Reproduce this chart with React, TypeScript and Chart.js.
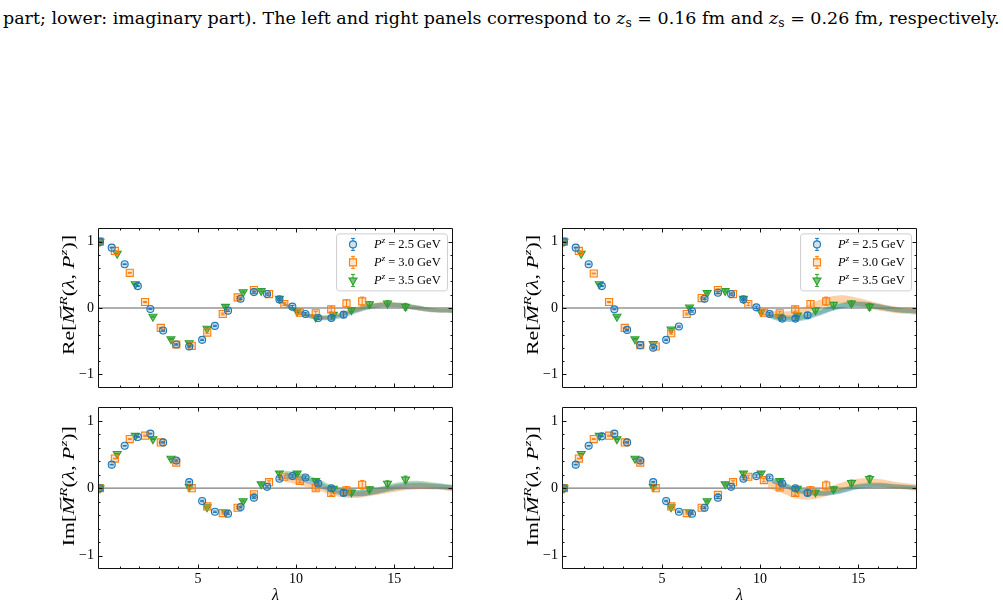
import React, { useEffect, useLayoutEffect, useRef } from 'react';
import { Chart, registerables } from 'chart.js';

Chart.register(...registerables);

const SERIF = '"Liberation Serif", "Times New Roman", Times, serif';
const CAPTION_FONT = '"DejaVu Serif", "Liberation Serif", serif';

// Series styling: one entry per momentum
const momentumLabels = ['2.5', '3.0', '3.5'];
const seriesColors = ['#1f77b4', '#ff7f0e', '#2ca02c'];
const markerFills = ['rgba(31,119,180,0.22)', 'rgba(255,127,14,0.22)', 'rgba(44,160,44,0.62)'];
const bandFills = ['rgba(31,119,180,0.36)', 'rgba(255,127,14,0.36)', 'rgba(44,160,44,0.36)'];

// Axis limits and ticks
const xLimits = [-0.1, 18];
const yLimits = [-1.2, 1.2];
const xMajorTicks = [5, 10, 15];
const xMinorTicks = [1, 2, 3, 4, 6, 7, 8, 9, 11, 12, 13, 14, 16, 17];
const yMajorTicks = [-1, 0, 1];
const yMinorTicks = [-0.8, -0.6, -0.4, -0.2, 0.2, 0.4, 0.6, 0.8];

// Ioffe time of each lattice point for the three momenta
const lambdaP25 = [0, 0.6, 1.26, 1.93, 2.57, 3.22, 3.89, 4.55, 5.21, 5.86, 6.53, 7.17, 7.85, 8.52, 9.15, 9.81, 10.48, 11.13, 11.8, 12.42];
const lambdaP30 = [0, 0.76, 1.52, 2.3, 3.1, 3.89, 4.68, 5.47, 6.26, 7.02, 7.85, 8.62, 9.4, 10.19, 11.0, 11.79, 12.57, 13.37];
const lambdaP35 = [0, 0.88, 1.8, 2.7, 3.62, 4.55, 5.46, 6.4, 7.3, 8.22, 9.15, 10.05, 11.0, 11.9, 12.82, 13.74, 14.66, 15.58];

// Statistical errors
const errP25 = [0.004, 0.005, 0.005, 0.006, 0.006, 0.008, 0.008, 0.01, 0.01, 0.01, 0.012, 0.012, 0.014, 0.015, 0.016, 0.018, 0.02, 0.024, 0.03, 0.04];
const errP30 = [0.004, 0.005, 0.006, 0.008, 0.008, 0.01, 0.01, 0.012, 0.014, 0.015, 0.018, 0.02, 0.022, 0.025, 0.03, 0.04, 0.05, 0.065];
const errP35 = [0.004, 0.005, 0.006, 0.008, 0.01, 0.01, 0.012, 0.012, 0.014, 0.015, 0.016, 0.018, 0.02, 0.025, 0.03, 0.035, 0.04, 0.05];

// Real part, z_s = 0.16 fm
const reLeftP25 = [1.0, 0.91, 0.66, 0.33, -0.015, -0.34, -0.55, -0.58, -0.48, -0.27, -0.04, 0.14, 0.24, 0.21, 0.13, 0.02, -0.09, -0.15, -0.15, -0.1];
const reLeftP30 = [1.0, 0.86, 0.53, 0.09, -0.3, -0.55, -0.57, -0.37, -0.09, 0.16, 0.27, 0.21, 0.06, -0.07, -0.08, -0.02, 0.07, 0.1];
const reLeftP35 = [1.0, 0.82, 0.36, -0.13, -0.47, -0.53, -0.31, 0.02, 0.24, 0.26, 0.14, -0.05, -0.14, -0.1, -0.03, 0.06, 0.07, 0.02];

// Real part, z_s = 0.26 fm
const reRightP25 = [1.0, 0.91, 0.66, 0.33, -0.02, -0.33, -0.56, -0.6, -0.48, -0.28, -0.05, 0.14, 0.23, 0.21, 0.13, 0.01, -0.09, -0.16, -0.16, -0.11];
const reRightP30 = [1.0, 0.86, 0.52, 0.09, -0.3, -0.56, -0.58, -0.38, -0.09, 0.15, 0.27, 0.21, 0.06, -0.07, -0.08, -0.02, 0.06, 0.1];
const reRightP35 = [1.0, 0.82, 0.36, -0.13, -0.47, -0.54, -0.32, 0.01, 0.23, 0.26, 0.14, -0.06, -0.13, -0.11, -0.03, 0.05, 0.07, 0.02];

// Imaginary part, z_s = 0.16 fm
const imLeftP25 = [0, 0.35, 0.63, 0.76, 0.81, 0.68, 0.41, 0.09, -0.19, -0.35, -0.38, -0.28, -0.14, 0.02, 0.14, 0.18, 0.16, 0.07, 0.0, -0.07];
const imLeftP30 = [0, 0.44, 0.73, 0.78, 0.68, 0.38, 0.0, -0.27, -0.37, -0.29, -0.09, 0.09, 0.17, 0.11, 0.0, -0.07, -0.03, 0.05];
const imLeftP35 = [0, 0.51, 0.78, 0.73, 0.44, 0.02, -0.28, -0.36, -0.19, 0.06, 0.22, 0.22, 0.11, -0.005, -0.06, -0.015, 0.07, 0.13];

// Imaginary part, z_s = 0.26 fm
const imRightP25 = [0, 0.35, 0.63, 0.77, 0.81, 0.68, 0.41, 0.09, -0.19, -0.35, -0.38, -0.29, -0.14, 0.02, 0.14, 0.18, 0.16, 0.07, 0.0, -0.07];
const imRightP30 = [0, 0.44, 0.73, 0.78, 0.68, 0.38, 0.0, -0.27, -0.37, -0.29, -0.1, 0.09, 0.17, 0.12, 0.01, -0.07, -0.03, 0.04];
const imRightP35 = [0, 0.51, 0.78, 0.73, 0.44, 0.02, -0.28, -0.36, -0.19, 0.06, 0.22, 0.22, 0.11, -0.005, -0.06, -0.015, 0.08, 0.14];

// Reconstructed bands (centre and half width at knots in λ)
const bandReLeftKnots = [9, 10, 11, 12, 13, 14, 15, 16, 17, 18];
const bandReLeftP25 = [0.14, -0.03, -0.14, -0.14, -0.05, 0.03, 0.045, 0.01, -0.035, -0.045];
const bandReLeftP30 = [0.14, -0.04, -0.13, -0.12, -0.03, 0.04, 0.045, 0.005, -0.035, -0.045];
const bandReLeftP35 = [0.15, -0.05, -0.14, -0.12, -0.03, 0.04, 0.05, 0.015, -0.03, -0.045];
const bandReLeftHalf = [0.02, 0.025, 0.03, 0.03, 0.035, 0.035, 0.035, 0.035, 0.03, 0.03];

const bandReRightKnots = [10.4, 11, 12, 13, 14, 15, 16, 17, 18];
const bandReRightP25 = [-0.11, -0.16, -0.16, -0.08, 0.02, 0.05, 0.02, -0.03, -0.05];
const bandReRightP30 = [-0.07, -0.11, -0.07, 0.06, 0.13, 0.09, 0.02, -0.03, -0.05];
const bandReRightP35 = [-0.1, -0.14, -0.14, -0.06, 0.03, 0.06, 0.02, -0.03, -0.05];
const bandReRightHalf = [0.035, 0.04, 0.04, 0.04, 0.04, 0.04, 0.04, 0.035, 0.035];
const bandReRightHalfP30 = [0.05, 0.055, 0.055, 0.06, 0.06, 0.06, 0.055, 0.05, 0.05];

const bandImLeftKnots = [9.4, 10, 11, 12, 13, 14, 15, 16, 17, 18];
const bandImLeftP25 = [0.18, 0.16, 0.07, -0.04, -0.08, -0.05, 0.01, 0.04, 0.03, 0.005];
const bandImLeftP30 = [0.14, 0.1, 0.02, -0.07, -0.1, -0.06, -0.01, 0.025, 0.02, 0.0];
const bandImLeftP35 = [0.22, 0.2, 0.11, -0.02, -0.07, -0.04, 0.03, 0.065, 0.045, 0.01];
const bandImLeftHalf = [0.04, 0.04, 0.04, 0.045, 0.045, 0.045, 0.045, 0.045, 0.04, 0.04];

const bandImRightKnots = [10.6, 11, 12, 13, 14, 15, 16, 17, 18];
const bandImRightP25 = [0.11, 0.07, -0.04, -0.08, -0.05, 0.02, 0.04, 0.025, 0.005];
const bandImRightP35 = [0.12, 0.08, -0.03, -0.07, -0.04, 0.03, 0.05, 0.03, 0.01];
const bandImRightHalf = [0.035, 0.035, 0.035, 0.035, 0.035, 0.035, 0.035, 0.03, 0.03];
const bandImRightKnotsP30 = [10.4, 11, 12, 13, 14, 15, 16, 17, 18];
const bandImRightP30 = [0.06, 0.0, -0.1, -0.09, 0.01, 0.08, 0.08, 0.04, 0.01];
const bandImRightHalfP30 = [0.06, 0.06, 0.06, 0.06, 0.06, 0.06, 0.055, 0.05, 0.05];

const lambdas = [lambdaP25, lambdaP30, lambdaP35];
const errors = [errP25, errP30, errP35];

type Band = { knots: number[]; center: number[]; half: number[] };
type PanelSpec = {
  part: 'Re' | 'Im';
  values: number[][];
  bands: Band[];
  showLegend: boolean;
  showXLabels: boolean;
  left: number;
  top: number;
  zeroColor: string;
  zeroWidth: number;
  titleShift: number;
};

// Geometry of a single panel canvas
const AREA_W = 355;
const AREA_H = 164;
const Y_AXIS_W = 70;
const PAD = 10;
const X_AXIS_H = 40;

const panels: PanelSpec[] = [
  {
    part: 'Re',
    values: [reLeftP25, reLeftP30, reLeftP35],
    bands: [
      { knots: bandReLeftKnots, center: bandReLeftP25, half: bandReLeftHalf },
      { knots: bandReLeftKnots, center: bandReLeftP30, half: bandReLeftHalf },
      { knots: bandReLeftKnots, center: bandReLeftP35, half: bandReLeftHalf },
    ],
    showLegend: true, showXLabels: false, left: 28, top: 216,
    zeroColor: 'rgba(150,150,150,0.75)', zeroWidth: 2, titleShift: -13,
  },
  {
    part: 'Re',
    values: [reRightP25, reRightP30, reRightP35],
    bands: [
      { knots: bandReRightKnots, center: bandReRightP25, half: bandReRightHalf },
      { knots: bandReRightKnots, center: bandReRightP30, half: bandReRightHalfP30 },
      { knots: bandReRightKnots, center: bandReRightP35, half: bandReRightHalf },
    ],
    showLegend: true, showXLabels: false, left: 492, top: 216,
    zeroColor: 'rgba(150,150,150,0.75)', zeroWidth: 2, titleShift: -13,
  },
  {
    part: 'Im',
    values: [imLeftP25, imLeftP30, imLeftP35],
    bands: [
      { knots: bandImLeftKnots, center: bandImLeftP25, half: bandImLeftHalf },
      { knots: bandImLeftKnots, center: bandImLeftP30, half: bandImLeftHalf },
      { knots: bandImLeftKnots, center: bandImLeftP35, half: bandImLeftHalf },
    ],
    showLegend: false, showXLabels: true, left: 28, top: 395,
    zeroColor: 'rgba(110,110,110,0.9)', zeroWidth: 1.3, titleShift: -2,
  },
  {
    part: 'Im',
    values: [imRightP25, imRightP30, imRightP35],
    bands: [
      { knots: bandImRightKnots, center: bandImRightP25, half: bandImRightHalf },
      { knots: bandImRightKnotsP30, center: bandImRightP30, half: bandImRightHalfP30 },
      { knots: bandImRightKnots, center: bandImRightP35, half: bandImRightHalf },
    ],
    showLegend: false, showXLabels: true, left: 492, top: 395,
    zeroColor: 'rgba(110,110,110,0.9)', zeroWidth: 1.3, titleShift: -2,
  },
];

type Seg = { t: string; it?: boolean; sup?: boolean; tilde?: boolean };

function segFont(s: Seg, size: number) {
  const sz = s.sup ? size * 0.7 : size;
  return `${s.it ? 'italic ' : ''}${sz}px ${SERIF}`;
}

// Draws mixed upright/italic text with superscripts, starting at (x, y) on the baseline
function drawRich(ctx: CanvasRenderingContext2D, segs: Seg[], x: number, y: number, size: number, target?: number) {
  const widths = segs.map((s) => {
    ctx.font = segFont(s, size);
    return ctx.measureText(s.t).width;
  });
  const total = widths.reduce((a, b) => a + b, 0);
  const sx = target ? target / total : 1;
  ctx.save();
  ctx.translate(x, y);
  ctx.scale(sx, 1);
  ctx.textAlign = 'left';
  ctx.textBaseline = 'alphabetic';
  ctx.fillStyle = '#000';
  let cx = 0;
  segs.forEach((s, i) => {
    ctx.font = segFont(s, size);
    ctx.fillText(s.t, cx, s.sup ? -size * 0.42 : 0);
    if (s.tilde) {
      const x0 = cx + widths[i] * 0.3;
      const x1 = cx + widths[i] * 0.95;
      const yt = -size * 0.83;
      ctx.beginPath();
      ctx.lineWidth = size * 0.06;
      ctx.strokeStyle = '#000';
      ctx.moveTo(x0, yt + 0.6);
      ctx.bezierCurveTo(x0 + (x1 - x0) * 0.3, yt - 1.8, x0 + (x1 - x0) * 0.6, yt + 2.2, x1, yt - 0.8);
      ctx.stroke();
    }
    cx += widths[i];
  });
  ctx.restore();
  return total * sx;
}

function drawMarker(ctx: CanvasRenderingContext2D, k: number, x: number, y: number) {
  ctx.beginPath();
  if (k === 0) {
    ctx.arc(x, y, 3.5, 0, Math.PI * 2);
  } else if (k === 1) {
    ctx.rect(x - 3.5, y - 3.5, 7, 7);
  } else {
    const r = 4.6;
    ctx.moveTo(x, y + r);
    ctx.lineTo(x - r * 0.866, y - r * 0.5);
    ctx.lineTo(x + r * 0.866, y - r * 0.5);
    ctx.closePath();
  }
  ctx.fillStyle = '#fff';
  ctx.fill();
  ctx.fillStyle = markerFills[k];
  ctx.fill();
  ctx.strokeStyle = seriesColors[k];
  ctx.lineWidth = 1.1;
  ctx.stroke();
}

function makePlugin(spec: PanelSpec) {
  return {
    id: 'panelDecor',
    beforeDatasetsDraw(chart: any) {
      const { ctx, chartArea: a, scales } = chart;
      const y0 = scales.y.getPixelForValue(0);
      ctx.save();
      ctx.strokeStyle = spec.zeroColor;
      ctx.lineWidth = spec.zeroWidth;
      ctx.beginPath();
      ctx.moveTo(a.left, y0);
      ctx.lineTo(a.right, y0);
      ctx.stroke();
      ctx.restore();
    },
    beforeDatasetDraw(chart: any, args: any) {
      const ds: any = chart.data.datasets[args.index];
      if (!ds.errors) return;
      const { ctx, chartArea: a, scales } = chart;
      ctx.save();
      ctx.beginPath();
      ctx.rect(a.left, a.top, a.right - a.left, a.bottom - a.top);
      ctx.clip();
      ctx.strokeStyle = ds.borderColor;
      ctx.lineWidth = 1;
      ds.data.forEach((p: any, i: number) => {
        const e = ds.errors[i];
        const px = scales.x.getPixelForValue(p.x);
        const yHi = scales.y.getPixelForValue(p.y + e);
        const yLo = scales.y.getPixelForValue(p.y - e);
        ctx.beginPath();
        ctx.moveTo(px, yHi);
        ctx.lineTo(px, yLo);
        ctx.moveTo(px - 2, yHi);
        ctx.lineTo(px + 2, yHi);
        ctx.moveTo(px - 2, yLo);
        ctx.lineTo(px + 2, yLo);
        ctx.stroke();
      });
      ctx.restore();
    },
    afterDraw(chart: any) {
      const { ctx, chartArea: a, scales } = chart;
      ctx.save();

      if (spec.showLegend) {
        const w = 111;
        const h = 57;
        const bx = a.right - 6 - w;
        const by = a.top + 5;
        ctx.beginPath();
        ctx.roundRect(bx + 0.5, by + 0.5, w, h, 3);
        ctx.fillStyle = 'rgba(255,255,255,0.85)';
        ctx.fill();
        ctx.strokeStyle = '#d0d0d0';
        ctx.lineWidth = 1;
        ctx.stroke();
        momentumLabels.forEach((m, k) => {
          const ry = by + 11 + k * 18;
          const mx = bx + 17;
          ctx.strokeStyle = seriesColors[k];
          ctx.lineWidth = 1;
          ctx.beginPath();
          ctx.moveTo(mx, ry - 6);
          ctx.lineTo(mx, ry + 6);
          ctx.moveTo(mx - 2, ry - 6);
          ctx.lineTo(mx + 2, ry - 6);
          ctx.moveTo(mx - 2, ry + 6);
          ctx.lineTo(mx + 2, ry + 6);
          ctx.stroke();
          drawMarker(ctx, k, mx, ry);
          drawRich(ctx, [{ t: 'P', it: true }, { t: 'z', it: true, sup: true }, { t: ` = ${m} GeV` }], bx + 38, ry + 4, 12.5);
        });
      }

      // Frame with inward ticks on all sides
      ctx.strokeStyle = '#111';
      ctx.lineWidth = 1;
      const L = Math.round(a.left) + 0.5;
      const R = Math.round(a.right) - 0.5;
      const T = Math.round(a.top) + 0.5;
      const B = Math.round(a.bottom) - 0.5;
      ctx.beginPath();
      ctx.rect(L, T, R - L, B - T);
      const xt = (v: number, len: number) => {
        const px = Math.round(scales.x.getPixelForValue(v)) + 0.5;
        ctx.moveTo(px, B);
        ctx.lineTo(px, B - len);
        ctx.moveTo(px, T);
        ctx.lineTo(px, T + len);
      };
      const yt = (v: number, len: number) => {
        const py = Math.round(scales.y.getPixelForValue(v)) + 0.5;
        ctx.moveTo(L, py);
        ctx.lineTo(L + len, py);
        ctx.moveTo(R, py);
        ctx.lineTo(R - len, py);
      };
      xMajorTicks.forEach((v) => xt(v, 4));
      xMinorTicks.forEach((v) => xt(v, 2));
      yMajorTicks.forEach((v) => yt(v, 4));
      yMinorTicks.forEach((v) => yt(v, 2));
      ctx.stroke();

      // Y axis title
      const segs: Seg[] = [
        { t: spec.part + '[' },
        { t: 'M', it: true, tilde: true },
        { t: 'R', it: true, sup: true },
        { t: '(' },
        { t: 'λ', it: true },
        { t: ', ' },
        { t: 'P', it: true },
        { t: 'z', it: true, sup: true },
        { t: ')]' },
      ];
      const size = 16;
      const target = 120;
      ctx.save();
      ctx.translate(a.left - 24, (a.top + a.bottom) / 2 + spec.titleShift);
      ctx.rotate(-Math.PI / 2);
      drawRich(ctx, segs, -target / 2, 0, size, target);
      ctx.restore();

      // X axis title
      if (spec.showXLabels) {
        ctx.font = `italic 16px ${SERIF}`;
        ctx.fillStyle = '#000';
        ctx.textAlign = 'center';
        ctx.textBaseline = 'alphabetic';
        ctx.fillText('λ', (a.left + a.right) / 2, a.bottom + 31);
      }
      ctx.restore();
    },
  };
}

function buildDatasets(spec: PanelSpec) {
  const points = [0, 1, 2].map((k) => ({
    type: 'scatter',
    label: `P^z = ${momentumLabels[k]} GeV`,
    data: lambdas[k].map((x, i) => ({ x, y: spec.values[k][i] })),
    errors: errors[k],
    pointStyle: k === 0 ? 'circle' : k === 1 ? 'rect' : 'triangle',
    pointRotation: k === 2 ? 180 : 0,
    pointRadius: k === 0 ? 3.5 : k === 1 ? 5 : 4.6,
    pointBorderWidth: 1.1,
    borderColor: seriesColors[k],
    backgroundColor: markerFills[k],
    order: 0,
  }));
  const bands: any[] = [];
  spec.bands.forEach((b, k) => {
    bands.push({
      type: 'line',
      data: b.knots.map((x, i) => ({ x, y: b.center[i] - b.half[i] })),
      borderColor: 'rgba(0,0,0,0)',
      borderWidth: 0,
      pointRadius: 0,
      fill: false,
      tension: 0.4,
      order: 1,
    });
    bands.push({
      type: 'line',
      data: b.knots.map((x, i) => ({ x, y: b.center[i] + b.half[i] })),
      borderColor: 'rgba(0,0,0,0)',
      borderWidth: 0,
      pointRadius: 0,
      fill: '-1',
      backgroundColor: bandFills[k],
      tension: 0.4,
      order: 1,
    });
  });
  return [...points, ...bands];
}

function Panel({ spec }: { spec: PanelSpec }) {
  const ref = useRef<HTMLCanvasElement>(null);
  const width = Y_AXIS_W + AREA_W + PAD;
  const height = PAD + AREA_H + (spec.showXLabels ? X_AXIS_H : PAD);

  useEffect(() => {
    if (!ref.current) return;
    const tickFont = { family: SERIF, size: 14 };
    const chart = new Chart(ref.current, {
      type: 'scatter',
      data: { datasets: buildDatasets(spec) as any },
      options: {
        animation: false,
        responsive: false,
        maintainAspectRatio: false,
        events: [],
        layout: { padding: { left: 0, right: PAD, top: PAD, bottom: spec.showXLabels ? 0 : PAD } },
        plugins: { legend: { display: false }, tooltip: { enabled: false } },
        scales: {
          x: {
            type: 'linear',
            min: xLimits[0],
            max: xLimits[1],
            display: spec.showXLabels,
            grid: { display: false, drawTicks: false },
            border: { display: false },
            ticks: { font: tickFont, color: '#000', padding: 2, maxRotation: 0 },
            afterBuildTicks: (s: any) => {
              s.ticks = xMajorTicks.map((v) => ({ value: v }));
            },
            afterFit: (s: any) => {
              s.height = spec.showXLabels ? X_AXIS_H : 0;
            },
          },
          y: {
            type: 'linear',
            min: yLimits[0],
            max: yLimits[1],
            grid: { display: false, drawTicks: false },
            border: { display: false },
            ticks: {
              font: tickFont,
              color: '#000',
              padding: 4,
              callback: (v: any) => (Number(v) < 0 ? '\u2212' + Math.abs(Number(v)) : String(v)),
            },
            afterBuildTicks: (s: any) => {
              s.ticks = yMajorTicks.map((v) => ({ value: v }));
            },
            afterFit: (s: any) => {
              s.width = Y_AXIS_W;
            },
          },
        },
      } as any,
      plugins: [makePlugin(spec)],
    });
    return () => chart.destroy();
  }, [spec]);

  return (
    <canvas
      ref={ref}
      width={width}
      height={height}
      style={{ position: 'absolute', left: spec.left, top: spec.top, width, height }}
    />
  );
}

const CAPTION_WIDTH = 997;
const CAPTION_BASE_SIZE = 15;

// Caption line; the font size is tuned so the line spans the page width
function Caption() {
  const ref = useRef<HTMLDivElement>(null);
  useLayoutEffect(() => {
    const el = ref.current;
    if (!el) return;
    el.style.fontSize = `${CAPTION_BASE_SIZE}px`;
    const w = el.getBoundingClientRect().width;
    if (w > 0) el.style.fontSize = `${(CAPTION_BASE_SIZE * CAPTION_WIDTH) / w}px`;
  }, []);
  const sub = { fontSize: '0.7em', position: 'relative' as const, top: '0.25em' };
  return (
    <div
      ref={ref}
      style={{
        position: 'absolute',
        left: 3,
        top: 10,
        whiteSpace: 'nowrap',
        fontFamily: CAPTION_FONT,
        fontSize: CAPTION_BASE_SIZE,
        lineHeight: '16px',
        color: '#000',
        display: 'inline-block',
      }}
    >
      part; lower: imaginary part). The left and right panels correspond to <i>z</i>
      <span style={sub}>s</span> = 0.16 fm and <i>z</i>
      <span style={sub}>s</span> = 0.26 fm, respectively.
    </div>
  );
}

export default function App() {
  return (
    <div
      style={{
        position: 'fixed',
        left: 0,
        top: 0,
        width: 1003,
        height: 608,
        background: '#fff',
        overflow: 'hidden',
      }}
    >
      <Caption />
      {panels.map((p, i) => (
        <Panel key={i} spec={p} />
      ))}
    </div>
  );
}
